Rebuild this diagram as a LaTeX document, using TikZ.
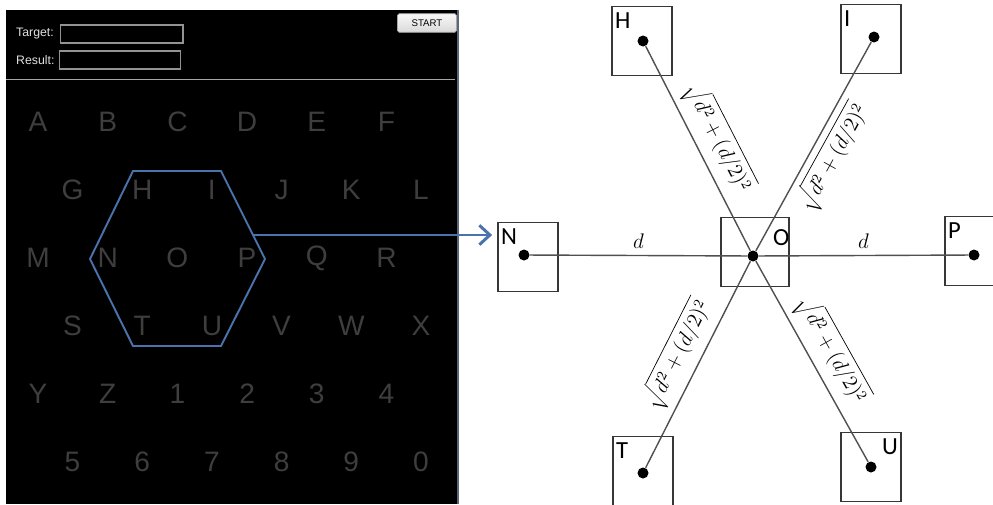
\documentclass[tikz,border=0pt]{standalone}
\usepackage[no-math]{fontspec}
\setmainfont{Liberation Sans}
\newfontfamily\cellfont{Carlito}
\usetikzlibrary{arrows.meta, positioning}

\definecolor{keygray}{RGB}{62,62,62}
\definecolor{hexblue}{RGB}{74,114,172}
\definecolor{boxgray}{RGB}{55,55,55}
\definecolor{linkgray}{RGB}{80,80,80}
\definecolor{rimgray}{RGB}{92,102,122}

\begin{document}
\begin{tikzpicture}[
    x=0.02cm, y=-0.02cm,
    key/.style={text=keygray, font=\fontsize{16}{16}\selectfont},
    caption/.style={anchor=west, text=white!88!black, font=\fontsize{7}{7}\selectfont},
    field/.style={draw=gray!85, fill=black, line width=0.6pt, anchor=west,
        minimum width=2.45cm, minimum height=0.36cm},
    cell/.style={draw=boxgray, line width=1pt,
        minimum width=1.2cm, minimum height=1.38cm},
    tag/.style={font=\cellfont\fontsize{14}{14}\selectfont,
        inner xsep=2pt, inner ysep=4pt},
    dot/.style={circle, fill=black, inner sep=0pt, minimum size=0.22cm},
    link/.style={draw=linkgray, line width=0.8pt},
    dist/.style={sloped, font=\large}
]
\useasboundingbox (0,0) rectangle (993,504);

% Keypad screen
\fill[black] (6,10) rectangle (458,504);
\draw[rimgray, line width=0.6pt] (458,10) -- (458,504);

\node[caption] (target) at (10,34) {Target:};
\node[field] (targetbox) at (60,34) {};
\node[caption] (result) at (10,60) {Result:};
\node[field, minimum width=2.42cm] (resultbox) at (59,60) {};
\node[draw=gray!70, rounded corners=1pt, top color=gray!5, bottom color=gray!30,
    minimum width=1.18cm, minimum height=0.36cm,
    font=\fontsize{5.5}{5.5}\selectfont] (start) at (427,23) {START};
\draw[gray!70, line width=0.5pt] (6,79) -- (455,79);

% Keys
\foreach \keyrow [count=\r from 0] in {{A,B,C,D,E,F},{G,H,I,J,K,L},{M,N,O,P,Q,R},
        {S,T,U,V,W,X},{Y,Z,1,2,3,4},{5,6,7,8,9,0}}
    \foreach \ch [count=\c from 0] in \keyrow
        \node[key] (key\ch) at ({38+34.5*mod(\r,2)+69.7*\c}, {122+68*\r}) {\ch};

% Neighbourhood of O
\draw[hexblue, line width=1.1pt] (133,171) -- (221,171) -- (265,259)
    -- (221,346) -- (133,346) -- (90,259) -- cycle;
\coordinate (hexedge) at (253,235);

% Cells
\node[cell, label={[tag, anchor=north west]north west:H}] (h) at (642,41) {};
\node[cell, label={[tag, anchor=north west]north west:I}] (i) at (871,39) {};
\node[cell, label={[tag, anchor=north west]north west:N}] (n) at (528,257) {};
\node[cell, minimum width=1.36cm,
    label={[tag, anchor=north east, inner xsep=0pt, yshift=-0.12cm]north east:O}] (o) at (755,252) {};
\node[cell, label={[tag, anchor=north west]north west:P}] (p) at (975,251) {};
\node[cell, label={[tag, anchor=north west]north west:T}] (t) at (643,471) {};
\node[cell, label={[tag, anchor=north east]north east:U}] (u) at (871,467) {};

\node[dot] (hd) at (643,41) {};
\node[dot] (id) at (874,37) {};
\node[dot] (nd) at (524,255) {};
\node[dot] (od) at (753,256) {};
\node[dot] (pd) at (974,255) {};
\node[dot] (td) at (643,473) {};
\node[dot] (ud) at (871,467) {};

% Arrows
\draw[hexblue, line width=1.7pt, -{Straight Barb[length=6pt, width=11pt]},
    shorten >=0.1cm] (hexedge) -- (hexedge -| n.west);

\draw[link] (nd) -- node[above, font=\large] {$d$} (od);
\draw[link] (od) -- node[above, font=\large] {$d$} (pd);
\draw[link] (hd) -- node[dist, above] {$\sqrt{d^2+(d/2)^2}$} (od);
\draw[link] (od) -- node[dist, below] {$\sqrt{d^2+(d/2)^2}$} (id);
\draw[link] (od) -- node[dist, above] {$\sqrt{d^2+(d/2)^2}$} (td);
\draw[link] (od) -- node[dist, above] {$\sqrt{d^2+(d/2)^2}$} (ud);

\end{tikzpicture}
\end{document}
